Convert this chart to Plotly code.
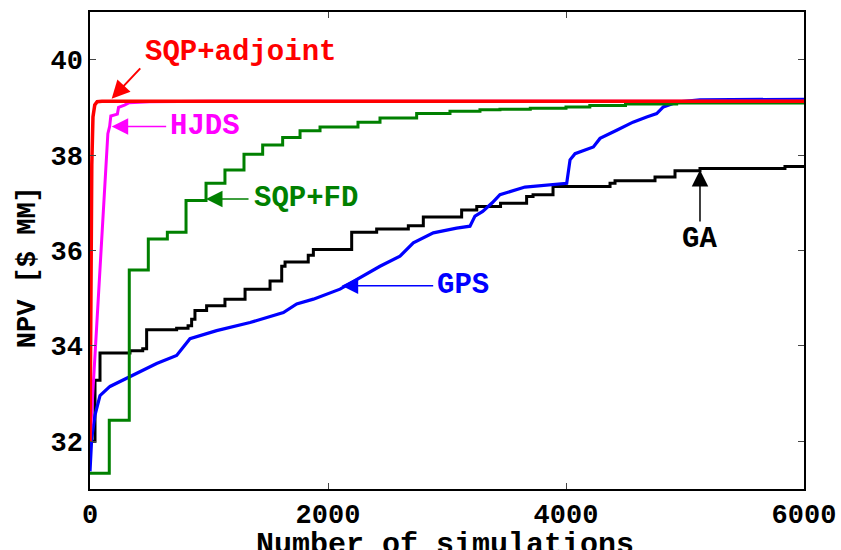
import plotly.graph_objects as go

# ---- data ----
adj_x = [0, 8, 15, 25, 40, 60, 100, 6000]
adj_y = [32.0, 35.5, 37.8, 38.8, 39.05, 39.12, 39.13, 39.13]

hjds_x = [0, 150, 165, 175, 230, 240, 290, 330, 500, 1000, 6000]
hjds_y = [32.0, 38.45, 38.6, 38.82, 38.86, 39.0, 39.05, 39.1, 39.12, 39.13, 39.13]

fd_x = [0, 162, 330, 490, 650, 807, 975, 1134, 1294, 1451, 1619, 1765, 1933,
        2252, 2437, 2745, 3025, 3277, 3445, 3700, 4000, 4200, 4500, 4930, 6000]
fd_y = [31.33, 32.44, 35.59, 36.24, 36.38, 37.05, 37.41, 37.69, 38.02, 38.21, 38.37,
        38.51, 38.59, 38.69, 38.78, 38.87, 38.92, 38.95, 38.96, 38.98, 39.01, 39.04,
        39.07, 39.09, 39.09]

ga_x = [0, 42, 84, 336, 443, 476, 728, 824, 854, 882, 980, 1134, 1303, 1513, 1611,
        1639, 1834, 1877, 2199, 2409, 2675, 2801, 3123, 3250, 3450, 3669, 3723, 3891,
        4370, 4412, 4748, 4916, 5126, 5840, 6000]
ga_y = [32.0, 33.28, 33.85, 33.90, 33.94, 34.34, 34.37, 34.42, 34.56, 34.74, 34.84,
        34.98, 35.19, 35.36, 35.67, 35.76, 35.90, 36.02, 36.38, 36.45, 36.52, 36.70,
        36.85, 36.92, 36.99, 37.13, 37.17, 37.34, 37.41, 37.46, 37.54, 37.67, 37.72,
        37.76, 37.76]

gps_x = [0, 14, 42, 84, 168, 277, 420, 560, 728, 840, 1064, 1345, 1625, 1737, 1877,
         2101, 2437, 2605, 2717, 2885, 3081, 3193, 3235, 3300, 3380, 3445, 3655, 4006,
         4034, 4076, 4230, 4286, 4426, 4563, 4678, 4762, 4818, 4930, 5126, 6000]
gps_y = [31.37, 32.06, 32.55, 32.96, 33.15, 33.28, 33.46, 33.63, 33.80, 34.15, 34.32,
         34.49, 34.70, 34.88, 34.98, 35.19, 35.67, 35.88, 36.16, 36.37, 36.47, 36.51,
         36.72, 36.82, 37.0, 37.17, 37.33, 37.41, 37.90, 38.03, 38.17, 38.35, 38.52,
         38.69, 38.80, 38.87, 39.01, 39.11, 39.16, 39.17]

x_ticks = [0, 2000, 4000, 6000]
y_ticks = [32, 34, 36, 38, 40]

FONT = "Liberation Mono"

fig = go.Figure()
fig.add_trace(go.Scatter(x=ga_x, y=ga_y, mode="lines", line=dict(color="black", width=3, shape="hv"), name="GA"))
fig.add_trace(go.Scatter(x=gps_x, y=gps_y, mode="lines", line=dict(color="#0000ff", width=3.2), name="GPS"))
fig.add_trace(go.Scatter(x=fd_x, y=fd_y, mode="lines", line=dict(color="#008000", width=3, shape="hv"), name="SQP+FD"))
fig.add_trace(go.Scatter(x=hjds_x, y=hjds_y, mode="lines", line=dict(color="#ff00ff", width=3), name="HJDS"))
fig.add_trace(go.Scatter(x=adj_x, y=adj_y, mode="lines", line=dict(color="#ff0000", width=3.5), name="SQP+adjoint"))

def label(text, x, y, color, xanchor="left"):
    fig.add_annotation(x=x, y=y, xref="x", yref="y", text="<b>%s</b>" % text, showarrow=False,
                       xanchor=xanchor, yanchor="middle",
                       font=dict(family=FONT, size=29, color=color))

def arrow(x, y, ax, ay, color, width=1.5):
    fig.add_annotation(x=x, y=y, xref="x", yref="y", text="", showarrow=True,
                       ax=ax, ay=ay, arrowhead=2, arrowsize=2.2 if width < 2 else 1.8,
                       arrowwidth=width, arrowcolor=color)

label("SQP+adjoint", 445, 40.15, "#ff0000")
arrow(182, 39.18, 30, -32, "#ff0000", 2)
label("HJDS", 655, 38.60, "#ff00ff")
arrow(182, 38.60, 56, 0, "#ff00ff")
label("SQP+FD", 1359, 37.08, "#008000")
arrow(975, 37.08, 44, 0, "#008000")
label("GPS", 2899, 35.26, "#0000ff")
arrow(2115, 35.26, 93, 0, "#0000ff")
label("GA", 5126, 36.23, "black", xanchor="center")
arrow(5126, 37.69, 0, 53, "black")

# axis titles
fig.add_annotation(x=0.497, y=-0.118, xref="paper", yref="paper", text="<b>Number of simulations</b>",
                   showarrow=False, xanchor="center", yanchor="middle",
                   font=dict(family=FONT, size=30, color="black"))
fig.add_annotation(x=-0.0868, y=0.465, xref="paper", yref="paper", text="<b>NPV [$ MM]</b>",
                   showarrow=False, xanchor="center", yanchor="middle", textangle=-90,
                   font=dict(family=FONT, size=27, color="black"))

axis_common = dict(showgrid=False, zeroline=False, showline=True, linecolor="black", linewidth=1.5,
                   mirror="ticks", ticks="inside", ticklen=6, tickcolor="#444", tickwidth=1,
                   automargin=False,
                   tickfont=dict(family=FONT, size=27, color="black"))
fig.update_xaxes(range=[0, 6000], tickvals=x_ticks, ticktext=["<b>%d</b>" % v for v in x_ticks], **axis_common)
fig.update_yaxes(range=[31, 41], tickvals=y_ticks, ticktext=["<b>%d</b>" % v for v in y_ticks], **axis_common)

fig.update_layout(width=841, height=550, margin=dict(l=90, r=37, t=12, b=61, autoexpand=False),
                  plot_bgcolor="white", paper_bgcolor="white", showlegend=False)

fig.write_html("out.html")
